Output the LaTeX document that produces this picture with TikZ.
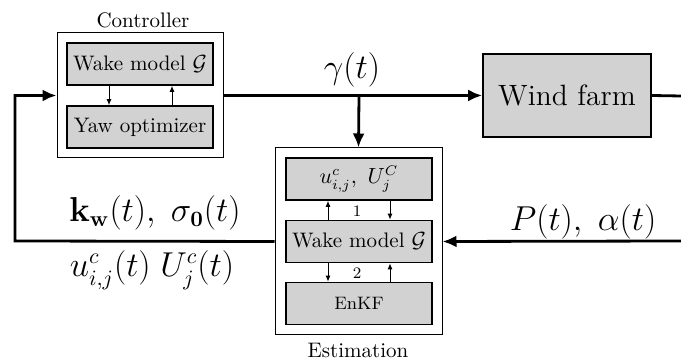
\documentclass[tikz,border=0pt]{standalone}
\usetikzlibrary{arrows.meta}
\begin{document}
\begin{tikzpicture}[x=0.5pt, y=-0.5pt, >={Latex[length=7pt,width=6pt]},
    font=\fontsize{10.5}{12}\selectfont,
    blocco/.style={draw, line width=0.8pt, fill=gray!35, minimum width=73pt, minimum height=21pt, inner sep=0pt},
    gruppo/.style={draw, line width=0.5pt, fill=white, inner sep=0pt},
    segnale/.style={line width=1.4pt},
    grande/.style={font=\fontsize{16}{18}\selectfont},
    piccola/.style={line width=0.5pt, -{Latex[length=3pt,width=2.5pt]}}]
    \useasboundingbox (0,0) rectangle (681,362);

    % Blocchi esterni
    \node[gruppo, minimum width=83pt, minimum height=62.5pt] (ctrl) at (140,95.5) {};
    \node[gruppo, minimum width=83.5pt, minimum height=93.5pt] (est) at (358.5,241.5) {};
    \node[blocco, minimum width=84pt, minimum height=41.5pt, font=\fontsize{14.7}{17}\selectfont] (farm) at (567,95.5) {Wind farm};

    % Blocchi interni
    \node[blocco] (wakec) at (140,64) {Wake model $\mathcal{G}$};
    \node[blocco] (yaw) at (140,127) {Yaw optimizer};
    \node[blocco] (ustate) at (359,179) {$u^c_{i,j},\ U^C_j$};
    \node[blocco] (wakee) at (359,241.5) {Wake model $\mathcal{G}$};
    \node[blocco, font=\small] (enkf) at (359,303.5) {EnKF};

    % Punti ausiliari
    \coordinate (split) at (359,96);
    \coordinate (pout) at (681,96);
    \coordinate (pin) at (681,241);
    \coordinate (corner) at (15,241);

    % Segnali
    \draw[segnale, ->] (ctrl.east) -- (farm.west);
    \draw[segnale] (farm.east) -- (pout);
    \draw[segnale, ->] (split) -- (est.north);
    \draw[segnale, ->] (pin) -- (est.east);
    \draw[segnale, ->] (est.west) -- (corner) |- (ctrl.west);

    % Frecce interne
    \draw[piccola] ([xshift=-15.5pt]wakec.south) -- ([xshift=-15.5pt]yaw.north);
    \draw[piccola] ([xshift=16pt]yaw.north) -- ([xshift=16pt]wakec.south);
    \draw[piccola] ([xshift=-15.5pt]wakee.north) -- ([xshift=-15.5pt]ustate.south);
    \draw[piccola] ([xshift=15.5pt]ustate.south) -- ([xshift=15.5pt]wakee.north);
    \draw[piccola] ([xshift=-15.5pt]wakee.south) -- ([xshift=-15.5pt]enkf.north);
    \draw[piccola] ([xshift=15.5pt]enkf.north) -- ([xshift=15.5pt]wakee.south);

    % Etichette
    \node (lctrl) at (143,20) {Controller};
    \node (lest) at (358,350) {Estimation};
    \node[font=\footnotesize] (luno) at (357,211) {1};
    \node[font=\footnotesize] (ldue) at (357,273) {2};
    \node[grande] (lgamma) at (352,70) {$\gamma(t)$};
    \node[grande] (lpa) at (583,222) {$P(t),\ \alpha(t)$};
    \node[grande] (lk) at (155,213) {$\mathbf{k}_{\mathbf{w}}(t),\ \sigma_{\mathbf{0}}(t)$};
    \node[grande] (lu) at (152,270) {$u^c_{i,j}(t)\ U^c_j(t)$};
\end{tikzpicture}
\end{document}
